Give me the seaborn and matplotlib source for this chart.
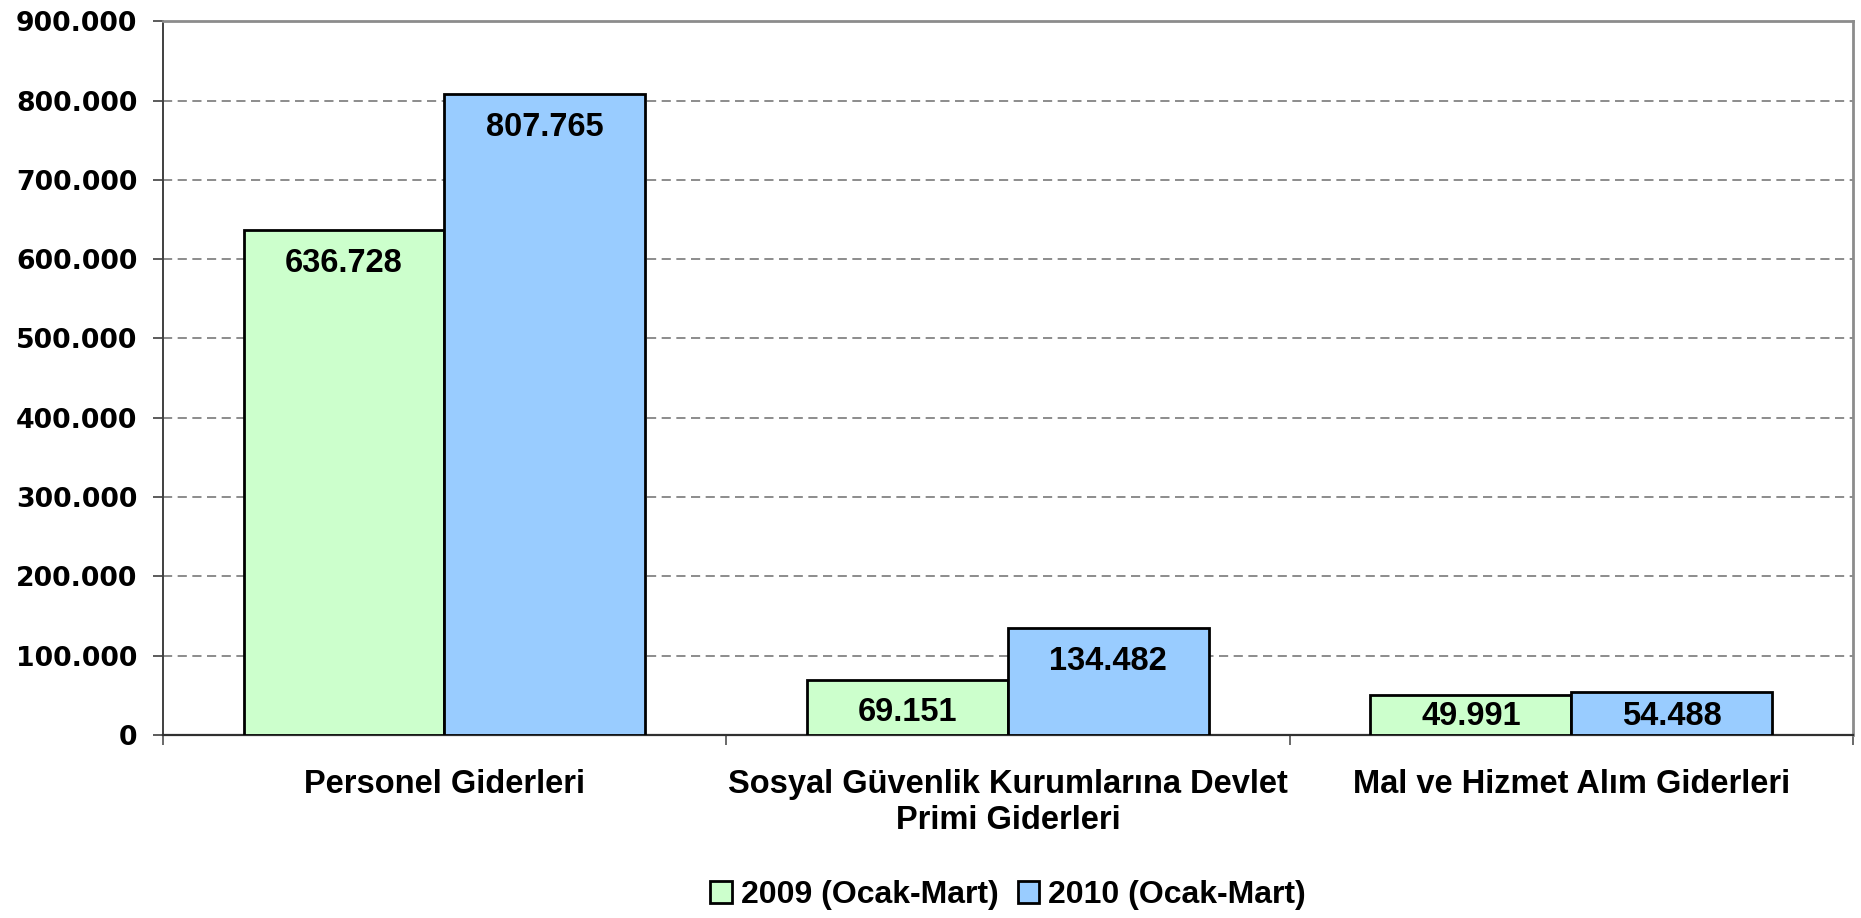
import matplotlib
matplotlib.use("Agg")
import matplotlib.pyplot as plt
import matplotlib.ticker as mticker
from matplotlib.patches import Patch
import seaborn as sns
import pandas as pd

categories = ["Personel Giderleri",
              "Sosyal Güvenlik Kurumlarına Devlet\nPrimi Giderleri",
              "Mal ve Hizmet Alım Giderleri"]
series_names = ["2009 (Ocak-Mart)", "2010 (Ocak-Mart)"]
values_2009 = [636728, 69151, 49991]
values_2010 = [807765, 134482, 54488]
y_ticks = [0, 100000, 200000, 300000, 400000, 500000, 600000, 700000, 800000, 900000]
colors = ["#CCFFCC", "#99CCFF"]

df = pd.DataFrame({
    "cat": categories * 2,
    "series": [series_names[0]] * 3 + [series_names[1]] * 3,
    "value": values_2009 + values_2010,
})

sns.set_theme(style="white")
plt.rcParams["font.family"] = ["Liberation Sans", "DejaVu Sans"]
plt.rcParams["text.color"] = "black"
plt.rcParams["xtick.labelcolor"] = "black"
plt.rcParams["ytick.labelcolor"] = "black"

DPI = 100
fig = plt.figure(figsize=(18.61, 9.18), dpi=DPI)
ax = fig.add_axes([0.0874, 0.1996, 0.9083, 0.7771])

sns.barplot(data=df, x="cat", y="value", hue="series", order=categories,
            hue_order=series_names, palette=colors, width=0.713,
            edgecolor="black", linewidth=2.0, saturation=1, ax=ax,
            legend=False, zorder=3, errorbar=None)

ax.set_xlim(-0.5, 2.5)
ax.set_ylim(0, 900000)
ax.set_xlabel("")
ax.set_ylabel("")

ax.set_yticks(y_ticks)
ax.yaxis.set_major_formatter(mticker.FuncFormatter(lambda v, p: f"{int(v):,}".replace(",", ".")))
for lbl in ax.get_yticklabels():
    lbl.set_fontfamily("DejaVu Sans")
    lbl.set_fontweight("bold")
    lbl.set_fontsize(19.3)
    lbl.set_color("black")
ax.tick_params(axis="y", which="major", direction="out", length=7.2, width=1.2,
               color="#404040", pad=11, left=True, labelcolor="black")

# grid lines
for t in y_ticks[1:-1]:
    ax.axhline(t, color="#6e6e6e", lw=1.1, dashes=(6, 3.6), zorder=1)

# x ticks
ax.set_xticks([0, 1, 2])
ax.set_xticklabels(categories, fontsize=23.5, fontweight="bold", linespacing=1.17,
                   color="black")
ax.tick_params(axis="x", which="major", length=0, pad=25, bottom=True, labelcolor="black")
ax.set_xticks([-0.5, 0.5, 1.5, 2.5], minor=True)
ax.tick_params(axis="x", which="minor", direction="out", length=7.2, width=1.2,
               color="#505050", bottom=True)

for side in ["top", "right"]:
    ax.spines[side].set_color("#8c8c8c")
    ax.spines[side].set_linewidth(2.0)
ax.spines["left"].set_color("#404040")
ax.spines["left"].set_linewidth(1.4)
ax.spines["bottom"].set_color("#303030")
ax.spines["bottom"].set_linewidth(1.6)

# value labels
fig.canvas.draw()
px_per_unit = ax.bbox.height / 900000.0
for cont in ax.containers:
    for bar in cont:
        h = bar.get_height()
        h_px = h * px_per_unit
        off_px = min(33.0, h_px - 18.0)
        txt = f"{int(round(h)):,}".replace(",", ".")
        ax.annotate(txt, (bar.get_x() + bar.get_width() / 2, h),
                    xytext=(0, -off_px * 72.0 / DPI), textcoords="offset points",
                    ha="center", va="center", fontsize=23.5, fontweight="bold",
                    color="black", zorder=5)

handles = [Patch(facecolor=c, edgecolor="black", linewidth=2.0) for c in colors]
fig.legend(handles, series_names, loc="center", bbox_to_anchor=(1008 / 1861, 1 - 895 / 918),
           ncol=2, frameon=False, prop={"weight": "bold", "size": 23},
           handlelength=0.68, handleheight=0.68, handletextpad=0.28,
           columnspacing=0.6, borderaxespad=0)

fig.savefig("out.png", dpi=DPI, facecolor="white")
